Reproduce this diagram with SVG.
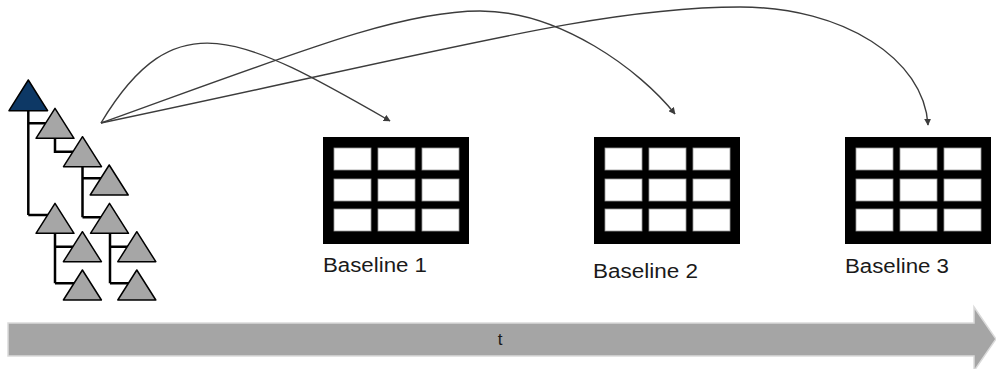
<svg xmlns="http://www.w3.org/2000/svg" width="996" height="369" viewBox="0 0 996 369">
  <style>
    .tri { fill: #a6a6a6; stroke: #000; stroke-width: 1.5; stroke-linejoin: round; }
    .tri-root { fill: #0d3865; stroke: #000; stroke-width: 1.5; stroke-linejoin: round; }
    .branch { fill: none; stroke: #000; stroke-width: 2.5; }
    .link { fill: none; stroke: #3c3c3c; stroke-width: 1.4; marker-end: url(#head); }
    .frame { fill: #000; }
    .cell { fill: #fff; stroke: #9a9a9a; stroke-width: 0.8; }
    .label { font-family: "Liberation Sans", Arial, sans-serif; font-size: 20px; fill: #1a1a1a; }
    .axis-label { font-family: "Liberation Sans", Arial, sans-serif; font-size: 17px; fill: #1a1a1a; }
  </style>
  <defs>
    <marker id="head" viewBox="0 0 10 10" refX="9" refY="5" markerWidth="7" markerHeight="7" markerUnits="userSpaceOnUse" orient="auto">
      <path d="M0,0 L10,5 L0,10 Z" fill="#3c3c3c"/>
    </marker>
    <!-- one 3x3 table, origin at its top-left corner -->
    <g id="table">
      <rect class="frame" x="0" y="0" width="146" height="107"/>
      <rect class="cell" x="11" y="11" width="37" height="22"/>
      <rect class="cell" x="55" y="11" width="37" height="22"/>
      <rect class="cell" x="99" y="11" width="37" height="22"/>
      <rect class="cell" x="11" y="42" width="37" height="22"/>
      <rect class="cell" x="55" y="42" width="37" height="22"/>
      <rect class="cell" x="99" y="42" width="37" height="22"/>
      <rect class="cell" x="11" y="72" width="37" height="22"/>
      <rect class="cell" x="55" y="72" width="37" height="22"/>
      <rect class="cell" x="99" y="72" width="37" height="22"/>
    </g>
  </defs>

  <!-- time axis -->
  <g id="time-axis">
    <polygon points="8,323 974,323 974,307 996,339 974,371 974,356 8,356" fill="#a5a5a5" stroke="#dadada" stroke-width="1.5"/>
    <text class="axis-label" x="500" y="345" text-anchor="middle">t</text>
  </g>

  <!-- tree of versions -->
  <g id="tree">
    <g id="tree-branches">
      <path class="branch" d="M28.3,110 V215 M28.3,123.3 H50 M28.3,215 H55"/>
      <path class="branch" d="M55,138 V151.7 H82.5"/>
      <path class="branch" d="M82.5,166 V217.3 M82.5,178.3 H109 M82.5,217.3 H109.5"/>
      <path class="branch" d="M55,233 V283.3 M55,246.7 H82.4 M55,283.3 H82.4"/>
      <path class="branch" d="M110,233 V283.3 M110,246.7 H136.8 M110,283.3 H136.8"/>
    </g>
    <g id="root"><path class="tri-root" d="M28.3,80 L47.6,110.7 L9,110.7 Z"/></g>
    <g id="v1"><path class="tri" d="M55,108.3 L74,138.3 L36,138.3 Z"/></g>
    <g id="v2"><path class="tri" d="M82.5,136.7 L101.5,166.7 L63.5,166.7 Z"/></g>
    <g id="v3"><path class="tri" d="M109.2,165 L128.2,195 L90.2,195 Z"/></g>
    <g id="v4"><path class="tri" d="M55,203.3 L74,233.3 L36,233.3 Z"/></g>
    <g id="v5"><path class="tri" d="M109.5,203.3 L128.5,233.3 L90.5,233.3 Z"/></g>
    <g id="v6"><path class="tri" d="M82.4,231.7 L101.4,261.7 L63.4,261.7 Z"/></g>
    <g id="v7"><path class="tri" d="M136.8,231.7 L155.8,261.7 L117.8,261.7 Z"/></g>
    <g id="v8"><path class="tri" d="M82.4,270 L101.4,300 L63.4,300 Z"/></g>
    <g id="v9"><path class="tri" d="M136.8,270 L155.8,300 L117.8,300 Z"/></g>
  </g>

  <!-- baselines -->
  <g id="baseline-1">
    <use href="#table" x="323" y="137"/>
    <text class="label" x="323" y="272" textLength="104" lengthAdjust="spacingAndGlyphs">Baseline 1</text>
  </g>
  <g id="baseline-2">
    <use href="#table" x="594" y="137"/>
    <text class="label" x="593" y="278" textLength="105" lengthAdjust="spacingAndGlyphs">Baseline 2</text>
  </g>
  <g id="baseline-3">
    <use href="#table" x="845" y="137"/>
    <text class="label" x="845" y="273" textLength="104" lengthAdjust="spacingAndGlyphs">Baseline 3</text>
  </g>

  <!-- links from the tree to each baseline -->
  <g id="connectors">
    <path class="link" d="M101,123 C175,0 240,35 390,121"/>
    <path class="link" d="M101,123 C301,51 400,11 480,11 C560,11 640,70 675,114"/>
    <path class="link" d="M101,123 C451,49.5 600,7 740,7 C843.8,7 924,59 928,125"/>
  </g>
</svg>
